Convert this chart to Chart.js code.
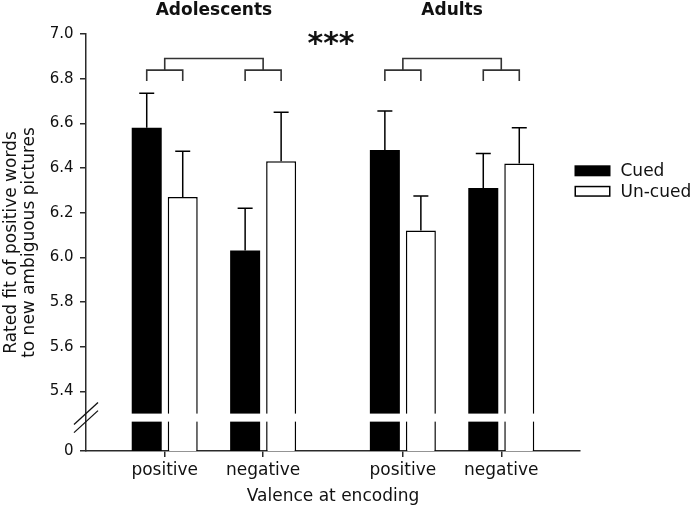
<!DOCTYPE html>
<html><head><meta charset="utf-8">
<script src="https://cdn.jsdelivr.net/npm/chart.js@4.4.1/dist/chart.umd.min.js"></script>
<style>html,body{margin:0;padding:0;background:#fff}canvas{display:block}</style>
</head><body>
<canvas id="c" width="694" height="508"></canvas>
<script>
// ---------- data ----------
const groups = ['Adolescents', 'Adults'];
const categories = ['positive', 'negative', 'positive', 'negative'];
const seriesNames = ['Cued', 'Un-cued'];
const cuedMeans = [6.58, 6.03, 6.48, 6.31];
const cuedSE = [0.155, 0.19, 0.175, 0.155];
const uncuedMeans = [6.27, 6.43, 6.12, 6.42];
const uncuedSE = [0.205, 0.22, 0.155, 0.16];
const yTickLabels = ['0', '5.4', '5.6', '5.8', '6.0', '6.2', '6.4', '6.6', '6.8', '7.0'];
const significance = '***';
const xTitle = 'Valence at encoding';
const yTitle = ['Rated fit of positive words', 'to new ambiguous pictures'];

// ---------- layout ----------
const Y_MIN = 5.1325, Y_MAX = 7.0;
const BREAK_LO = 5.264, BREAK_HI = 5.30;
const GROUP_GAP = 0.42;
const xPos = i => i + Math.floor(i / 2) * GROUP_GAP;
const X_MIN = -0.8, X_MAX = xPos(categories.length - 1) + 0.8;
const BR_TOP = 6.89, BR_MID = 6.838, BR_LEG = 6.79;
const FONT = 'DejaVu Sans';
const INK = '#111';
const AXIS = '#2a2a2a';

const ses = [cuedSE, uncuedSE];

const annot = {
  id: 'annot',
  afterDatasetsDraw(chart) {
    const {ctx, chartArea: ca, scales: {x, y}} = chart;
    ctx.save();
    // error bars (upper only)
    chart.data.datasets.forEach((ds, d) => {
      const meta = chart.getDatasetMeta(d);
      meta.data.forEach((bar, i) => {
        const v = ds.data[i].y;
        const top = y.getPixelForValue(v + ses[d][i]);
        ctx.strokeStyle = '#000';
        ctx.lineWidth = 1.5;
        ctx.beginPath();
        ctx.moveTo(bar.x, bar.y);
        ctx.lineTo(bar.x, top);
        ctx.moveTo(bar.x - 7.5, top);
        ctx.lineTo(bar.x + 7.5, top);
        ctx.stroke();
      });
    });
    // axis break
    const b1 = y.getPixelForValue(BREAK_HI), b2 = y.getPixelForValue(BREAK_LO);
    ctx.fillStyle = '#fff';
    ctx.fillRect(ca.left + 1.5, b1, ca.right - ca.left - 1.5, b2 - b1);
    ctx.strokeStyle = INK;
    ctx.lineWidth = 1.3;
    [b1, b2].forEach(by => {
      ctx.beginPath();
      ctx.moveTo(ca.left - 12, by + 11);
      ctx.lineTo(ca.left + 12, by - 11);
      ctx.stroke();
    });
    // brackets
    const m0 = chart.getDatasetMeta(0), m1 = chart.getDatasetMeta(1);
    const yt = y.getPixelForValue(BR_TOP), ym = y.getPixelForValue(BR_MID), yl = y.getPixelForValue(BR_LEG);
    ctx.strokeStyle = '#333';
    ctx.lineWidth = 1.6;
    for (let i = 0; i < categories.length; i++) {
      const a = m0.data[i].x, b = m1.data[i].x;
      ctx.beginPath();
      ctx.moveTo(a, yl); ctx.lineTo(a, ym); ctx.lineTo(b, ym); ctx.lineTo(b, yl);
      ctx.stroke();
    }
    for (let g = 0; g < groups.length; g++) {
      const c0 = x.getPixelForValue(xPos(2 * g)), c1 = x.getPixelForValue(xPos(2 * g + 1));
      ctx.beginPath();
      ctx.moveTo(c0, ym); ctx.lineTo(c0, yt); ctx.lineTo(c1, yt); ctx.lineTo(c1, ym);
      ctx.stroke();
    }
    ctx.restore();
  },
  afterDraw(chart) {
    const {ctx, chartArea: ca, scales: {x}} = chart;
    ctx.save();
    ctx.fillStyle = INK;
    ctx.textAlign = 'center';
    ctx.textBaseline = 'alphabetic';
    ctx.font = 'bold 17px "' + FONT + '"';
    for (let g = 0; g < groups.length; g++) {
      const c0 = x.getPixelForValue(xPos(2 * g)), c1 = x.getPixelForValue(xPos(2 * g + 1));
      ctx.fillText(groups[g], (c0 + c1) / 2, 15);
    }
    ctx.font = 'bold 30px "' + FONT + '"';
    const between = (x.getPixelForValue(xPos(1)) + x.getPixelForValue(xPos(2))) / 2;
    ctx.fillText(significance, between - 2, 53);
    // legend
    const lx = ca.right - 5.5, ly = 165.3, rowH = 20.5;
    ctx.textAlign = 'left';
    ctx.font = '17px "' + FONT + '"';
    chart.data.datasets.forEach((ds, d) => {
      const by = ly + d * rowH;
      ctx.fillStyle = ds.backgroundColor;
      ctx.fillRect(lx, by, 36, 11);
      if (ds.borderWidth) {
        ctx.strokeStyle = ds.borderColor;
        ctx.lineWidth = 1.5;
        ctx.strokeRect(lx + 0.75, by + 0.75, 34.5, 9.5);
      }
      ctx.fillStyle = INK;
      ctx.fillText(ds.label, lx + 46, by + 11);
    });
    ctx.restore();
  }
};

new Chart(document.getElementById('c'), {
  type: 'bar',
  data: {
    datasets: [
      {
        label: seriesNames[0],
        data: cuedMeans.map((v, i) => ({x: xPos(i), y: v})),
        backgroundColor: '#000',
        borderWidth: 0
      },
      {
        label: seriesNames[1],
        data: uncuedMeans.map((v, i) => ({x: xPos(i), y: v})),
        backgroundColor: '#fff',
        borderColor: '#000',
        borderWidth: 1.5
      }
    ]
  },
  options: {
    responsive: false,
    animation: false,
    devicePixelRatio: 1,
    categoryPercentage: 0.7317,
    barPercentage: 0.8333,
    layout: {padding: {top: 34, right: 114, left: 0, bottom: 0}},
    plugins: {legend: {display: false}, tooltip: {enabled: false}},
    scales: {
      x: {
        type: 'linear',
        min: X_MIN,
        max: X_MAX,
        offset: false,
        afterBuildTicks: s => { s.ticks = categories.map((c, i) => ({value: xPos(i)})); },
        afterFit: s => { s.height = 57; },
        grid: {offset: false, drawOnChartArea: false, drawTicks: true, tickLength: 6, color: AXIS, lineWidth: 1.5},
        border: {display: true, color: AXIS, width: 1.5},
        ticks: {
          autoSkip: false, maxRotation: 0, padding: 3, color: INK,
          font: {family: FONT, size: 17},
          callback: (v, i) => categories[i]
        },
        title: {display: true, text: xTitle, color: INK, font: {family: FONT, size: 17, lineHeight: 1.2}, padding: {top: 0, bottom: 1}}
      },
      y: {
        type: 'linear',
        min: Y_MIN,
        max: Y_MAX,
        beginAtZero: false,
        afterBuildTicks: s => { s.ticks = yTickLabels.map((t, i) => ({value: i === 0 ? Y_MIN : parseFloat(t)})); },
        afterFit: s => { s.width = 86; },
        grid: {drawOnChartArea: false, drawTicks: true, tickLength: 6, color: AXIS, lineWidth: 1.5},
        border: {display: true, color: AXIS, width: 1.5},
        ticks: {
          padding: 6.5, color: INK,
          font: {family: FONT, size: 15},
          callback: (v, i) => yTickLabels[i]
        },
        title: {display: true, text: yTitle, color: INK, font: {family: FONT, size: 17, lineHeight: '18px'}, padding: {top: 2.5, bottom: 0}}
      }
    }
  },
  plugins: [annot]
});
</script>
</body></html>
